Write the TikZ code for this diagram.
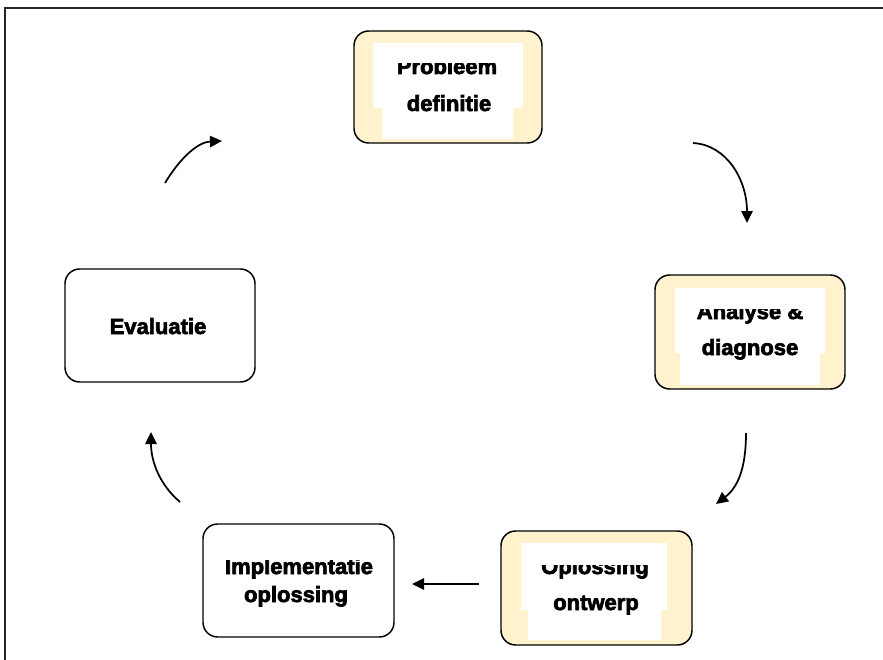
\documentclass[tikz,border=0pt]{standalone}
\usepackage{fontspec}
\newfontfamily\lblfont[BoldFeatures={FakeBold=3}]{Liberation Sans}
\usetikzlibrary{arrows.meta}
\definecolor{cream}{HTML}{FFF2CC}
\begin{document}
\begin{tikzpicture}[x=0.75pt,y=-0.75pt,
  card/.style={draw=black, line width=1.1pt, rounded corners=11pt, inner sep=0pt},
  creamcard/.style={card, fill=cream},
  whitecard/.style={card, fill=white},
  inset/.style={fill=white, draw=none},
  lbl/.style={font=\lblfont\bfseries\fontsize{16.5}{19}\selectfont, anchor=base, inner sep=0pt},
  arr/.style={line width=1.3pt, -{Triangle[length=9pt,width=8.5pt]}},
  frame/.style={line width=1.2pt, black!85}]
\useasboundingbox (0,0) rectangle (883,660);
\fill[white] (0,0) rectangle (883,660);
\draw[frame] (5,660) -- (5,8) -- (883,8);

% boxes
\node[creamcard, minimum width=141pt, minimum height=84pt] (b1) at (448,87) {};
\node[creamcard, minimum width=142.5pt, minimum height=85.5pt] (b2) at (750,332) {};
\node[creamcard, minimum width=143.25pt, minimum height=85.5pt] (b3) at (596.5,588) {};
\node[whitecard, minimum width=143.25pt, minimum height=84.75pt] (b4) at (298.5,580.5) {};
\node[whitecard, minimum width=142.5pt, minimum height=84.75pt] (b5) at (160,325.5) {};

% white text areas
\path[inset] (373,43) -- (523,43) -- (523,108) -- (513,108) -- (513,139) -- (382,139) -- (382,108) -- (373,108) -- cycle;
\path[inset] (675,288) -- (825,288) -- (825,353) -- (820,353) -- (820,385) -- (680,385) -- (680,353) -- (675,353) -- cycle;
\path[inset] (521,543) -- (667,543) -- (667,610) -- (661,610) -- (661,640) -- (528,640) -- (528,610) -- (521,610) -- cycle;

% texts
\begin{scope}
  \clip (354,64) rectangle (542,143);
  \node[lbl] (t1a) at (447,74) {Probleem};
  \node[lbl] (t1b) at (449,111) {definitie};
\end{scope}
\begin{scope}
  \clip (655,309) rectangle (845,389);
  \node[lbl] (t2a) at (750,319) {Analyse \&};
  \node[lbl] (t2b) at (750,355) {diagnose};
\end{scope}
\begin{scope}
  \clip (501,565) rectangle (692,645);
  \node[lbl] (t3a) at (595,574) {Oplossing};
  \node[lbl] (t3b) at (596,610) {ontwerp};
\end{scope}
\begin{scope}
  \clip (203,560) rectangle (394,637);
  \node[lbl] (t4a) at (299,574) {Implementatie};
  \node[lbl] (t4b) at (296,602) {oplossing};
\end{scope}
\node[lbl] (t5) at (158,334) {Evaluatie};

% connectors
\coordinate (a1s) at (165,183);
\coordinate (a1t) at (222,141);
\coordinate (a2s) at (693,143);
\coordinate (a2t) at (747,223);
\coordinate (a3s) at (746,433);
\coordinate (a3t) at (716,504);
\coordinate (a4s) at (479,584);
\coordinate (a4t) at (412,584);
\coordinate (a5s) at (180,502);
\coordinate (a5t) at (151,432);

\draw[arr] (a1s) .. controls (180,158) and (198,142) .. (a1t);
\draw[arr] (a2s) .. controls (727,145) and (747,180) .. (a2t);
\draw[arr] (a3s) .. controls (746,470) and (737,488) .. (a3t);
\draw[arr] (a4s) -- (a4t);
\draw[arr] (a5s) .. controls (160,485) and (151,462) .. (a5t);
\end{tikzpicture}
\end{document}
